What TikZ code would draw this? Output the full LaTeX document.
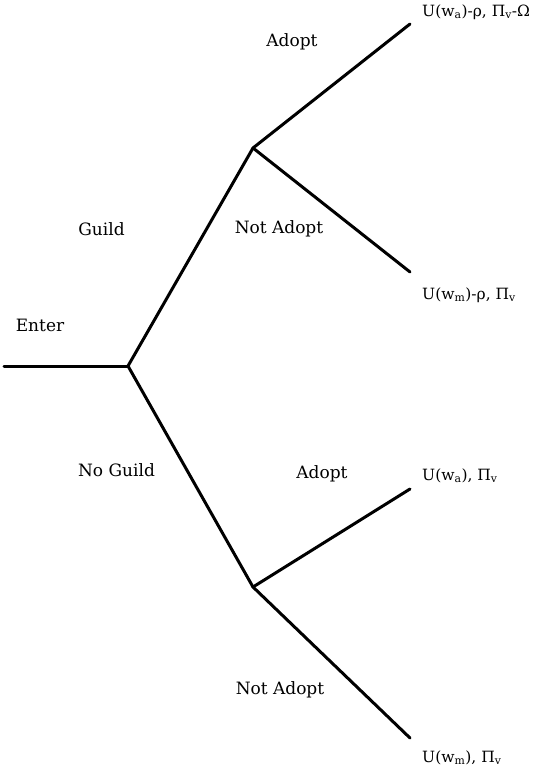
\documentclass[tikz,border=0pt]{standalone}
\usepackage{fontspec}
\setmainfont{DejaVu Serif}
\newcommand{\sbs}[1]{\textsubscript{#1}}
\begin{document}
\begin{tikzpicture}[x=1pt,y=-1pt,
  branch/.style={line width=3pt, line cap=round},
  lbl/.style={font=\fontsize{17}{19}\selectfont, inner sep=0pt},
  pay/.style={font=\fontsize{15.5}{18}\selectfont, inner sep=0pt, anchor=west}]
\useasboundingbox (0,0) rectangle (545,775);
\coordinate (start) at (4,366);
\coordinate (root) at (128,366);
\coordinate (up) at (253,148);
\coordinate (dn) at (253,587);
\coordinate (l1) at (410,24);
\coordinate (l2) at (410,272);
\coordinate (l3) at (410,489);
\coordinate (l4) at (410,738);
\draw[branch] (start) -- (root);
\draw[branch] (root) -- (up);
\draw[branch] (root) -- (dn);
\draw[branch] (up) -- (l1);
\draw[branch] (up) -- (l2);
\draw[branch] (dn) -- (l3);
\draw[branch] (dn) -- (l4);
\node[lbl] (enter) at (40,325) {Enter};
\node[lbl] (guild) at (101.5,229) {Guild};
\node[lbl] (noguild) at (116.5,470) {No Guild};
\node[lbl] (a1) at (292,42) {Adopt};
\node[lbl] (na1) at (279,229) {Not Adopt};
\node[lbl] (a2) at (322,474) {Adopt};
\node[lbl] (na2) at (280,690) {Not Adopt};
\node[pay] (p1) at (422,12.5) {U(w\sbs{a})-ρ, Π\sbs{v}-Ω};
\node[pay] (p2) at (422,295) {U(w\sbs{m})-ρ, Π\sbs{v}};
\node[pay] (p3) at (422,476) {U(w\sbs{a}), Π\sbs{v}};
\node[pay] (p4) at (422,758) {U(w\sbs{m}), Π\sbs{v}};
\end{tikzpicture}
\end{document}
